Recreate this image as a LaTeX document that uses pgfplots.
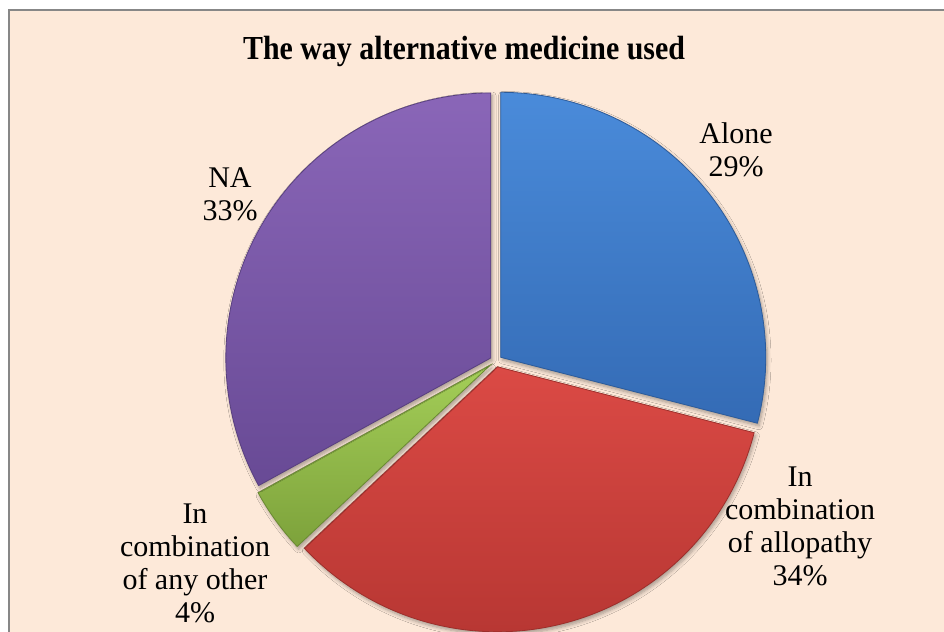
\documentclass[border=0pt]{standalone}
\usepackage{pgfplots}
\pgfplotsset{compat=1.18}
\usepackage{pgfplotstable}
\usepackage{fontspec}
\setmainfont{Liberation Serif}
\usetikzlibrary{shadows.blur}

\definecolor{bgpeach}{HTML}{FDE9D9}
\definecolor{framegray}{HTML}{878787}
\definecolor{blueT}{HTML}{4A8BDA}
\definecolor{blueB}{HTML}{346BB5}
\definecolor{redT}{HTML}{DB4A45}
\definecolor{redB}{HTML}{B83733}
\definecolor{greenT}{HTML}{A4CE58}
\definecolor{greenB}{HTML}{7DA23B}
\definecolor{purT}{HTML}{8A66B8}
\definecolor{purB}{HTML}{684A95}

% shares of the pie, clockwise from 12 o'clock
\pgfplotstableread{
pct
29
34
4
33
}\piedata

\newcommand\cx{496}
\newcommand\cy{271}
\newcommand\R{265}
\def\sstart{90}

\newcommand{\slice}[4]{%
  \pgfplotstablegetelem{#1}{pct}\of\piedata
  \pgfmathsetmacro\ang{3.6*\pgfplotsretval}%
  \pgfmathsetmacro\send{\sstart-\ang}%
  \pgfmathsetmacro\smid{(\sstart+\send)/2}%
  \pgfmathsetmacro\ox{\cx+#4*cos(\smid)}%
  \pgfmathsetmacro\oy{\cy+#4*sin(\smid)}%
  \edef\tmp{\noexpand\addplot[draw=#3!85!black, line width=0.4pt,
     top color=#2, bottom color=#3,
     blur shadow={shadow xshift=0.8pt, shadow yshift=-1.4pt, shadow blur steps=6, shadow opacity=35},
     domain=\send:\sstart, samples=120, variable=\noexpand\t]
     ({\ox+\R*cos(\noexpand\t)},{\oy+\R*sin(\noexpand\t)}) -- (axis cs:\ox,\oy) -- cycle;}%
  \tmp
  \let\sstart\send
}

\begin{document}
\begin{tikzpicture}
\path[use as bounding box, clip] (0,0) rectangle (472pt,316pt);
\begin{axis}[
  at={(0,0)}, anchor=south west,
  scale only axis, width=472pt, height=316pt,
  xmin=0, xmax=944, ymin=0, ymax=632,
  axis lines=none, clip=false,
]
\fill[white] (axis cs:-10,-10) rectangle (axis cs:960,650);
\draw[framegray, line width=1.25pt, fill=bgpeach] (axis cs:8.75,622) rectangle (axis cs:990,-40);

\node[font=\fontsize{16.8}{20}\selectfont\bfseries, anchor=base] at (axis cs:464,572) {\scalebox{0.89}[1]{The way alternative medicine used}};

\slice{0}{blueT}{blueB}{6}
\slice{1}{redT}{redB}{6}
\slice{2}{greenT}{greenB}{7}
\slice{3}{purT}{purB}{6}

\node[font=\fontsize{15}{16.65}\selectfont, align=center, anchor=north, inner sep=0pt] at (axis cs:736,510) {Alone\\29\%};
\node[font=\fontsize{15}{16.65}\selectfont, align=center, anchor=north, inner sep=0pt] at (axis cs:230,465) {NA\\33\%};
\node[font=\fontsize{15}{16.65}\selectfont, align=center, anchor=north, inner sep=0pt] at (axis cs:800,166) {In\\combination\\of allopathy\\34\%};
\node[font=\fontsize{15}{16.65}\selectfont, align=center, anchor=north, inner sep=0pt] at (axis cs:195,129) {In\\combination\\of any other\\4\%};
\end{axis}
\end{tikzpicture}
\end{document}
